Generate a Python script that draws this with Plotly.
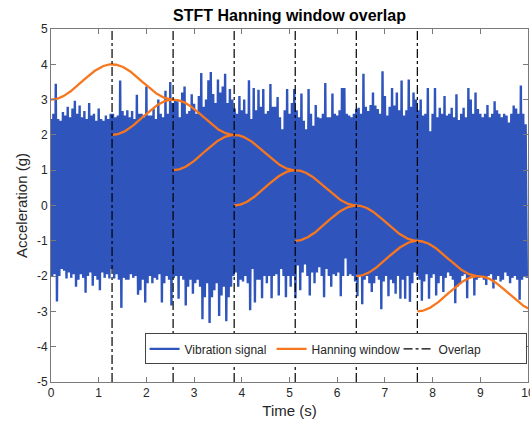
import numpy as np
import plotly.graph_objects as go

# Vibration signal: upper and lower extremes in consecutive 0.05 s bins (g)
bin_width = 0.05
signal_high = [
    2.45, 2.6, 3.45, 2.45, 2.4, 2.65, 2.55, 2.8, 2.5, 2.75,
    2.97, 2.6, 2.83, 2.5, 2.68, 2.45, 2.9, 2.55, 2.6, 2.4,
    2.75, 2.45, 2.4, 2.55, 2.45, 2.6, 2.6, 2.5, 2.55, 3.54,
    2.68, 2.55, 2.7, 2.5, 2.68, 2.45, 3.14, 2.6, 2.6, 2.5,
    3.37, 2.55, 2.55, 2.75, 2.45, 3.0, 2.6, 2.5, 3.25, 2.6,
    3.5, 2.9, 3.0, 2.95, 2.5, 3.2, 3.37, 2.6, 2.68, 3.15,
    2.88, 2.6, 3.1, 3.75, 2.8, 3.0, 3.55, 3.78, 3.16, 2.9,
    3.57, 3.2, 3.37, 3.73, 2.9, 3.3, 3.0, 2.75, 2.6, 3.1,
    2.7, 3.0, 2.6, 3.55, 2.45, 3.33, 2.7, 3.28, 2.8, 3.3,
    2.6, 2.68, 3.44, 2.8, 2.8, 3.07, 2.5, 2.16, 2.7, 3.3,
    2.6, 2.9, 3.3, 2.7, 2.5, 3.17, 2.4, 2.16, 3.3, 2.6,
    2.26, 2.85, 2.5, 2.47, 2.6, 3.47, 2.5, 2.5, 3.17, 2.6,
    2.55, 2.7, 3.33, 3.33, 2.6, 2.55, 2.5, 2.6, 2.73, 2.77,
    2.6, 3.73, 2.8, 2.68, 2.85, 3.2, 2.83, 2.73, 2.6, 3.8,
    3.1, 2.55, 2.8, 3.33, 2.83, 3.2, 2.7, 3.54, 2.55, 2.7,
    3.57, 2.8, 3.2, 3.0, 2.7, 3.0, 2.55, 2.6, 3.33, 2.1,
    2.6, 3.33, 2.5, 2.77, 2.6, 3.1, 2.55, 2.6, 2.77, 2.5,
    3.15, 2.42, 2.6, 2.77, 2.5, 3.33, 3.0, 2.6, 3.2, 2.73,
    2.6, 2.5, 2.6, 2.85, 2.5, 2.6, 2.95, 2.7, 2.6, 2.5,
    2.6, 2.55, 2.35, 2.6, 2.83, 2.75, 2.6, 3.4, 2.6, 2.3,
]
signal_low = [
    -2.0, -1.95, -2.72, -2.0, -1.8, -1.85, -2.07, -1.9, -2.05, -1.95,
    -2.3, -2.1, -1.95, -2.05, -2.47, -2.0, -1.9, -2.27, -2.0, -2.1,
    -2.4, -1.9, -2.05, -1.95, -2.07, -1.8, -2.07, -1.95, -2.1, -2.9,
    -2.05, -2.1, -2.1, -1.95, -2.05, -2.0, -2.53, -2.4, -2.1, -2.75,
    -2.2, -2.0, -2.2, -2.05, -2.1, -1.95, -2.75, -2.2, -2.0, -2.1,
    -2.83, -2.05, -2.0, -2.64, -2.0, -2.1, -2.83, -2.3, -2.1, -2.5,
    -2.2, -2.1, -2.3, -3.22, -2.6, -2.2, -3.33, -2.6, -2.4, -2.2,
    -3.13, -2.55, -2.3, -3.28, -2.6, -2.3, -2.0, -1.9, -2.3, -2.1,
    -2.15, -2.0, -2.2, -2.97, -1.8, -2.75, -2.1, -2.1, -2.63, -2.0,
    -2.2, -2.0, -2.63, -2.0, -1.95, -2.55, -1.8, -2.0, -2.6, -2.0,
    -2.3, -2.0, -2.63, -1.7, -2.4, -1.9, -1.67, -2.0, -2.55, -1.9,
    -2.2, -1.9, -1.75, -2.0, -2.6, -1.8, -2.0, -2.3, -1.95, -2.0,
    -1.9, -2.57, -2.0, -1.5, -2.0, -1.95, -2.0, -2.15, -2.57, -2.0,
    -2.8, -2.1, -2.0, -2.2, -2.45, -2.2, -2.0, -2.1, -2.94, -2.15,
    -2.0, -2.57, -2.1, -2.2, -2.5, -2.0, -2.64, -2.1, -2.64, -2.0,
    -2.73, -2.2, -1.9, -2.0, -2.1, -2.7, -2.15, -1.95, -2.64, -2.05,
    -1.95, -2.55, -2.2, -2.0, -2.45, -2.05, -1.9, -2.0, -2.1, -2.77,
    -2.3, -2.2, -2.0, -1.95, -2.63, -2.05, -2.0, -2.55, -2.1, -2.05,
    -2.0, -2.1, -2.25, -2.0, -1.95, -2.35, -2.1, -2.0, -2.15, -2.1,
    -1.9, -2.0, -2.2, -2.05, -2.0, -2.1, -2.67, -2.1, -2.0, -2.05,
]

# STFT framing: Hanning window segments (start time, vertical offset)
window_length = 2.56
window_starts = [0.0, 1.28, 2.56, 3.84, 5.12, 6.40, 7.68]
window_offsets = [3, 2, 1, 0, -1, -2, -3]
overlap_times = [1.28, 2.56, 3.84, 5.12, 6.40, 7.68]

# axis ticks
x_ticks = [0, 1, 2, 3, 4, 5, 6, 7, 8, 9, 10]
x_tick_text = ["0", "1", "2", "3", "4", "5", "6", "7", "8", "9", "10"]
y_ticks = [-5, -4, -3, -2, -1, 0, 1, 2, 3, 4, 5]
y_tick_text = ["-5", "-4", "-3", "-2", "-1", "0", "1", "2", "3", "4", "5"]

BLUE = "#2F55BD"
ORANGE = "#F7761E"
FONT = "Liberation Sans, Arial, sans-serif"

# the signal alternates between each bin's high and low extreme
sig_t, sig_y = [], []
for i, (hi, lo) in enumerate(zip(signal_high, signal_low)):
    t0 = i * bin_width
    sig_t += [t0, t0 + bin_width / 2]
    sig_y += [hi, lo]

fig = go.Figure()
fig.add_trace(go.Scatter(
    x=sig_t, y=sig_y, mode="lines", name="Vibration signal",
    line=dict(color=BLUE, width=2.4),
))

n_win = 257
hann = np.hanning(n_win)
for k, (t0, off) in enumerate(zip(window_starts, window_offsets)):
    tw = t0 + np.linspace(0, window_length, n_win)
    fig.add_trace(go.Scatter(
        x=tw, y=hann + off, mode="lines", name="Hanning window",
        line=dict(color=ORANGE, width=2.3),
        showlegend=(k == 0), legendgroup="hann",
    ))

for k, tv in enumerate(overlap_times):
    fig.add_trace(go.Scatter(
        x=[tv, tv], y=[-5, 5], mode="lines", name="Overlap",
        line=dict(color="black", width=1.2, dash="dashdot"),
        showlegend=(k == 0), legendgroup="ov",
    ))

axis_common = dict(
    showline=True, linecolor="#7a7a7a", linewidth=1, mirror="ticks",
    ticks="inside", ticklen=5, tickcolor="#7a7a7a",
    showgrid=False, zeroline=False, tickmode="array",
    ticklabeloverflow="allow", automargin=False,
    tickfont=dict(family=FONT, size=12, color="#262626"),
)

fig.update_layout(
    width=530, height=427,
    margin=dict(l=51, r=2, t=29, b=45),
    paper_bgcolor="white", plot_bgcolor="white",
    title=dict(
        text="<b>STFT Hanning window overlap</b>",
        x=289.5 / 530, xanchor="center",
        y=1 - 15 / 427, yanchor="middle",
        font=dict(family=FONT, size=16, color="black"),
    ),
    xaxis=dict(
        range=[0, 10],
        tickvals=x_ticks, ticktext=x_tick_text,
        title=dict(text="Time (s)", standoff=6,
                   font=dict(family=FONT, size=15, color="#262626")),
        **axis_common,
    ),
    yaxis=dict(
        range=[-5, 5],
        tickvals=y_ticks, ticktext=y_tick_text,
        title=dict(text="Acceleration (g)", standoff=5,
                   font=dict(family=FONT, size=15, color="#262626")),
        **axis_common,
    ),
    legend=dict(
        orientation="h", x=0.997, xanchor="right", y=0.05, yanchor="bottom",
        bgcolor="white", bordercolor="#444", borderwidth=1,
        font=dict(family=FONT, size=12, color="#262626"),
        entrywidth=82, tracegroupgap=0,
    ),
    showlegend=True,
)

fig.write_html("out.html")
